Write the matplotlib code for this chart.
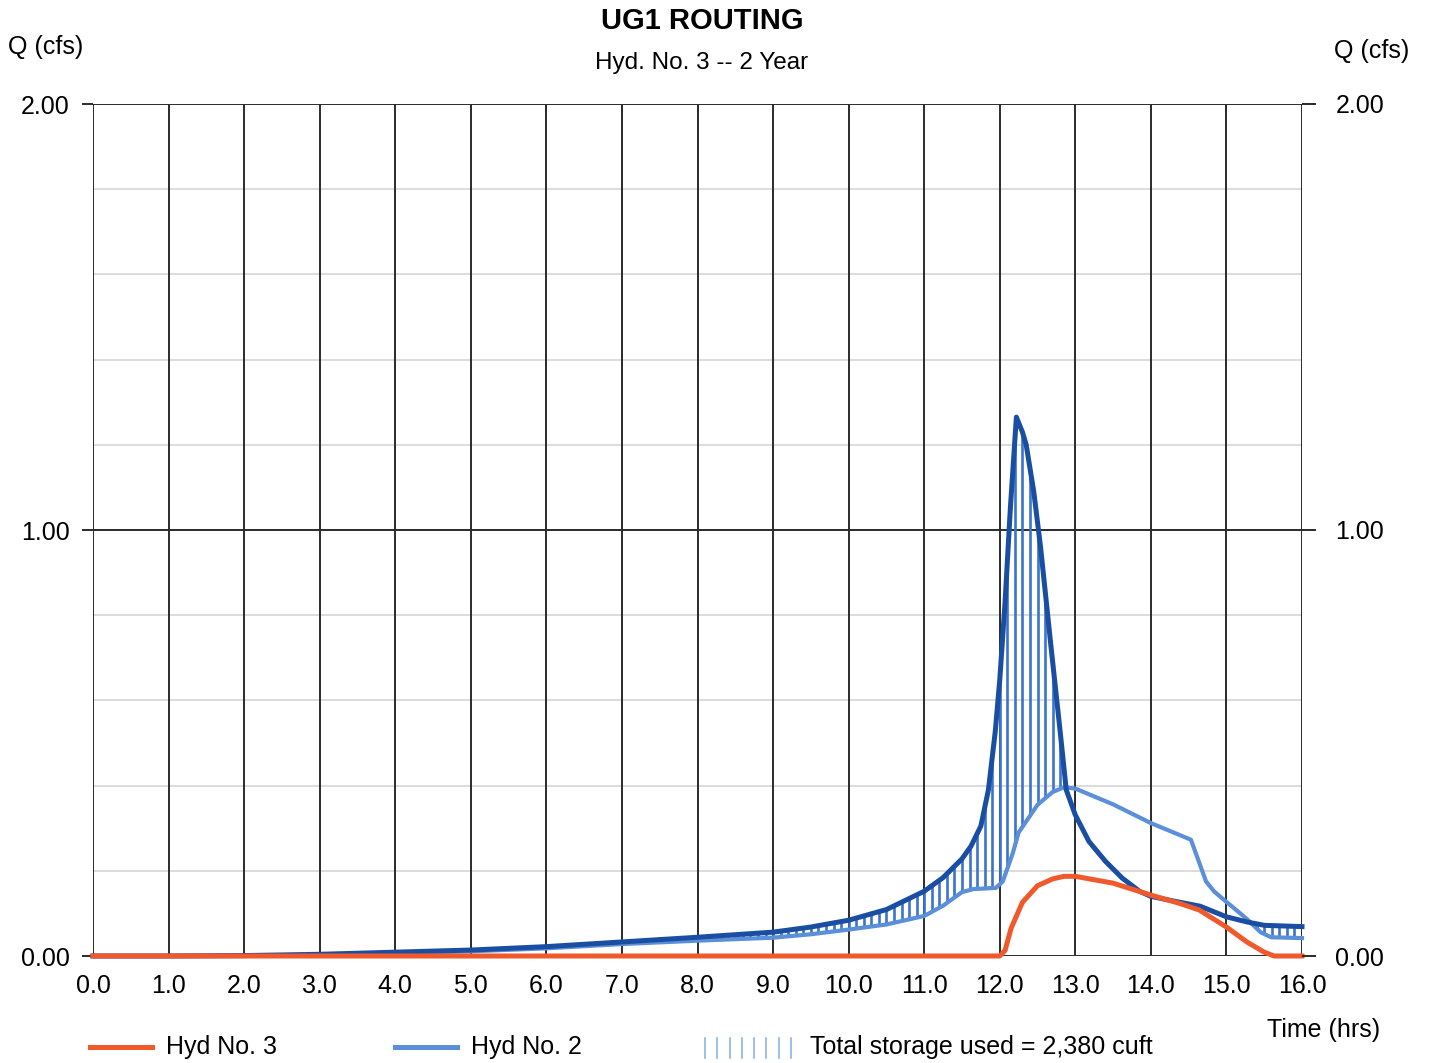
import numpy as np
import matplotlib
matplotlib.use("Agg")
import matplotlib.pyplot as plt
from matplotlib.lines import Line2D

plt.rcParams['font.family'] = ['Liberation Sans', 'DejaVu Sans']

# Inflow hydrograph (dark blue)
t_in = [0.0, 1.0, 2.0, 3.0, 4.0, 5.0, 6.0, 7.0, 8.0, 9.0, 9.5, 10.0, 10.5, 11.0,
        11.25, 11.5, 11.62, 11.75, 11.85, 11.94, 12.0, 12.07, 12.14, 12.22, 12.3,
        12.35, 12.45, 12.54, 12.67, 12.8, 12.88, 13.0, 13.18, 13.4, 13.62, 13.85,
        14.0, 14.3, 14.65, 15.0, 15.27, 15.5, 16.0]
q_in = [0.0, 0.0, 0.001, 0.004, 0.009, 0.014, 0.022, 0.033, 0.044, 0.056, 0.068,
        0.084, 0.109, 0.152, 0.184, 0.228, 0.258, 0.305, 0.39, 0.526, 0.648, 0.83,
        1.05, 1.265, 1.23, 1.20, 1.09, 0.96, 0.74, 0.526, 0.39, 0.331, 0.269,
        0.222, 0.183, 0.152, 0.14, 0.129, 0.117, 0.092, 0.08, 0.072, 0.069]

# Hyd No. 2 (light blue)
t_h2 = [0.0, 2.0, 3.0, 4.0, 5.0, 6.0, 7.0, 8.0, 9.0, 9.5, 10.0, 10.5, 11.0, 11.25,
        11.5, 11.65, 11.95, 12.04, 12.17, 12.25, 12.5, 12.7, 12.85, 13.0, 13.5,
        14.0, 14.53, 14.73, 14.84, 15.0, 15.27, 15.45, 15.59, 16.0]
q_h2 = [0.0, 0.0, 0.003, 0.007, 0.011, 0.018, 0.028, 0.036, 0.043, 0.051, 0.062,
        0.074, 0.094, 0.118, 0.15, 0.157, 0.16, 0.175, 0.24, 0.29, 0.355, 0.385,
        0.396, 0.393, 0.356, 0.312, 0.273, 0.175, 0.151, 0.127, 0.087, 0.056,
        0.044, 0.042]

# Hyd No. 3 (orange, routed outflow)
t_h3 = [0.0, 12.0, 12.07, 12.15, 12.3, 12.5, 12.7, 12.85, 13.0, 13.5, 14.0, 14.39,
        14.64, 15.0, 15.27, 15.5, 15.63, 16.0]
q_h3 = [0.0, 0.0, 0.013, 0.065, 0.126, 0.165, 0.181, 0.187, 0.187, 0.171, 0.143,
        0.123, 0.108, 0.068, 0.033, 0.009, 0.0, 0.0]

x_ticks = np.arange(0, 17, 1)
x_labels = [f"{v:.1f}" for v in x_ticks]
y_major = [0.0, 1.0, 2.0]
y_labels = ["0.00", "1.00", "2.00"]
y_minor = np.arange(0.2, 2.0, 0.2)

storage_label = "Total storage used = 2,380 cuft"

C_ORANGE = "#f0592b"
C_LIGHT = "#5b8fd9"
C_DARK = "#1a4ea3"
C_HATCH = "#3a74cc"

W, H = 1429, 1063
fig = plt.figure(figsize=(W / 100, H / 100), dpi=100)
ax = fig.add_axes([93 / W, 1 - 956 / H, (1302 - 93) / W, (956 - 104) / H])

ax.set_xlim(0, 16)
ax.set_ylim(0, 2)

# grid
for y in y_minor:
    if abs(y - 1.0) > 1e-6:
        ax.axhline(y, color="#d9d9d9", lw=1.3, zorder=0)
for x in x_ticks:
    ax.axvline(x, color="#2b2b2b", lw=1.4, zorder=1)
for y in y_major:
    ax.axhline(y, color="#2b2b2b", lw=1.4, zorder=1)

# storage hatching between inflow and Hyd No. 2
th = np.arange(0.1, 16.0, 0.1)
qi = np.interp(th, t_in, q_in)
q2 = np.interp(th, t_h2, q_h2)
mask = qi - q2 > 0.002
ax.vlines(th[mask], q2[mask], qi[mask], color=C_HATCH, lw=1.9, zorder=2)

ax.plot(t_h2, q_h2, color=C_LIGHT, lw=3.0, zorder=3, clip_on=False,
        solid_joinstyle="round")
ax.plot(t_in, q_in, color=C_DARK, lw=3.6, zorder=4, clip_on=False,
        solid_joinstyle="round")
ax.plot(t_h3, q_h3, color=C_ORANGE, lw=3.6, zorder=5, clip_on=False,
        solid_joinstyle="round")

for s in ax.spines.values():
    s.set_visible(False)

ax.set_xticks(x_ticks)
ax.set_xticklabels(x_labels)
ax.set_yticks(y_major)
ax.set_yticklabels(y_labels)
ax.tick_params(axis="x", length=0, pad=13, labelsize=18)
ax.tick_params(axis="y", which="major", length=8, width=1.4, color="#2b2b2b",
               direction="out", pad=9, labelsize=18)

ax2 = ax.twinx()
ax2.set_ylim(0, 2)
ax2.set_yticks(y_major)
ax2.set_yticklabels(y_labels)
ax2.tick_params(axis="y", length=10, width=1.4, color="#2b2b2b", direction="out",
                pad=14, labelsize=18)
for s in ax2.spines.values():
    s.set_visible(False)

# titles and axis captions
fig.text(702 / W, 1 - 21 / H, "UG1 ROUTING", ha="center", va="center",
         fontsize=21, fontweight="bold")
fig.text(702 / W, 1 - 63 / H, "Hyd. No. 3 -- 2 Year", ha="center", va="center",
         fontsize=17.5)
fig.text(8 / W, 1 - 47 / H, "Q (cfs)", ha="left", va="center", fontsize=18)
fig.text(1334 / W, 1 - 51 / H, "Q (cfs)", ha="left", va="center", fontsize=18)
fig.text(1267 / W, 1 - 1030 / H, "Time (hrs)", ha="left", va="center", fontsize=18)

# legend
ly = 1 - 1047 / H
fig.add_artist(Line2D([90 / W, 152 / W], [ly, ly], color=C_ORANGE, lw=3.6))
fig.text(166 / W, ly, "Hyd No. 3", ha="left", va="center", fontsize=18)
fig.add_artist(Line2D([395 / W, 457 / W], [ly, ly], color=C_LIGHT, lw=3.6))
fig.text(471 / W, ly, "Hyd No. 2", ha="left", va="center", fontsize=18)
for xh in np.linspace(705, 791, 8):
    fig.add_artist(Line2D([xh / W, xh / W], [1 - 1038 / H, 1 - 1058 / H],
                          color="#8fb3e6", lw=1.2))
fig.text(810 / W, ly, storage_label, ha="left", va="center", fontsize=18)

fig.savefig("out.png", dpi=100)
